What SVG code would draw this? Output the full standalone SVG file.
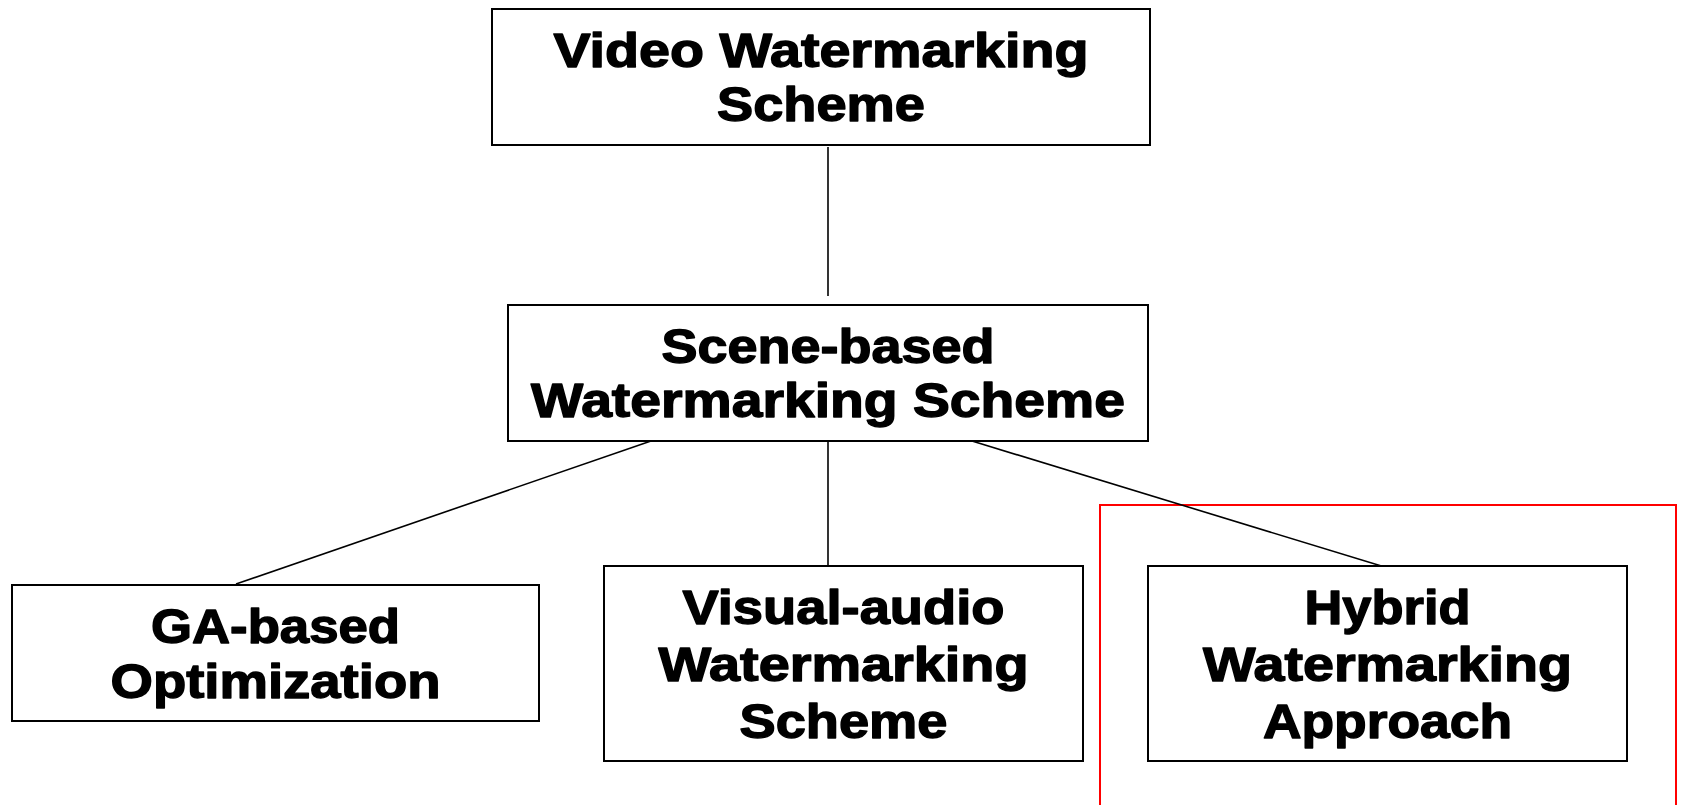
<svg xmlns="http://www.w3.org/2000/svg" width="1681" height="805" viewBox="0 0 1681 805">
  <style>
    .box { fill: #ffffff; stroke: #000000; stroke-width: 2; }
    .lbl { font-family: "Liberation Sans", Arial, sans-serif; font-weight: bold; font-size: 49px; fill: #000000; stroke: #000000; stroke-width: 1.4; stroke-linejoin: round; text-anchor: middle; }
    .edge { stroke: #000000; stroke-width: 1.6; fill: none; }
    .hl { fill: none; stroke: #ff0000; stroke-width: 2; }
  </style>
  <rect width="1681" height="805" fill="#ffffff"/>

  <!-- highlight frame around the hybrid branch -->
  <rect class="hl" x="1100" y="505" width="576" height="310"/>

  <!-- connectors -->
  <g id="connectors">
    <line class="edge" x1="828" y1="147" x2="828" y2="296"/>
    <line class="edge" x1="651" y1="441" x2="236" y2="584"/>
    <line class="edge" x1="828" y1="441" x2="828" y2="567"/>
    <line class="edge" x1="972" y1="441" x2="1388" y2="568"/>
  </g>

  <g id="video-watermarking">
    <rect class="box" x="492" y="9" width="658" height="136"/>
    <text class="lbl" x="821" y="67" textLength="535" lengthAdjust="spacingAndGlyphs">Video Watermarking</text>
    <text class="lbl" x="821" y="121" textLength="208" lengthAdjust="spacingAndGlyphs">Scheme</text>
  </g>

  <g id="scene-based">
    <rect class="box" x="508" y="305" width="640" height="136"/>
    <text class="lbl" x="828" y="363" textLength="333" lengthAdjust="spacingAndGlyphs">Scene-based</text>
    <text class="lbl" x="828" y="417" textLength="594" lengthAdjust="spacingAndGlyphs">Watermarking Scheme</text>
  </g>

  <g id="ga-based">
    <rect class="box" x="12" y="585" width="527" height="136"/>
    <text class="lbl" x="275.5" y="643" textLength="249" lengthAdjust="spacingAndGlyphs">GA-based</text>
    <text class="lbl" x="275.5" y="698" textLength="330" lengthAdjust="spacingAndGlyphs">Optimization</text>
  </g>

  <g id="visual-audio">
    <rect class="box" x="604" y="566" width="479" height="195"/>
    <text class="lbl" x="843.5" y="624" textLength="322" lengthAdjust="spacingAndGlyphs">Visual-audio</text>
    <text class="lbl" x="843.5" y="681" textLength="370" lengthAdjust="spacingAndGlyphs">Watermarking</text>
    <text class="lbl" x="843.5" y="738" textLength="208" lengthAdjust="spacingAndGlyphs">Scheme</text>
  </g>

  <g id="hybrid">
    <rect class="box" x="1148" y="566" width="479" height="195"/>
    <text class="lbl" x="1387.5" y="624" textLength="166" lengthAdjust="spacingAndGlyphs">Hybrid</text>
    <text class="lbl" x="1387.5" y="681" textLength="369" lengthAdjust="spacingAndGlyphs">Watermarking</text>
    <text class="lbl" x="1387.5" y="738" textLength="249" lengthAdjust="spacingAndGlyphs">Approach</text>
  </g>
</svg>
